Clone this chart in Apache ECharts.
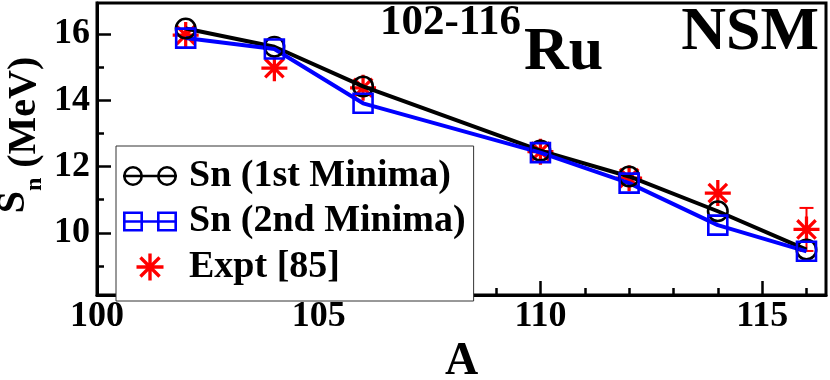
<!DOCTYPE html>
<html>
<head>
<meta charset="utf-8">
<title>Sn 102-116Ru NSM</title>
<script src="https://cdn.jsdelivr.net/npm/echarts@6/dist/echarts.min.js"></script>
<style>
html, body { margin: 0; padding: 0; background: #fff; }
#chart { width: 830px; height: 380px; }
</style>
</head>
<body>
<div id="chart"></div>
<script>
// mass number A
const massNumbers = [102, 104, 106, 110, 112, 114, 116]
// neutron separation energy S_n (MeV)
const snFirstMinima = [16.17, 15.62, 14.42, 12.48, 11.70, 10.65, 9.49]
const snSecondMinima = [15.88, 15.55, 13.91, 12.42, 11.50, 10.23, 9.44]
const snExpt = [15.97, 14.97, 14.38, 12.45, 11.65, 11.20, 10.10]
const snExptErr = [0, 0, 0, 0, 0, 0, 0.65]
const seriesNames = ['Sn (1st Minima)', 'Sn (2nd Minima)', 'Expt [85]']
// tick values
const xMajorTicks = [100, 105, 110, 115]
const xMinorTicks = [101, 102, 103, 104, 106, 107, 108, 109, 111, 112, 113, 114, 116]
const yMajorTicks = [10, 12, 14, 16]
const yMinorTicks = [9, 11, 13, 15]

const serif = "'Liberation Serif', 'Times New Roman', serif"

// symbols
const starPath = 'path://M10.5,0H13.5V24H10.5Z M0,10.5H24V13.5H0Z M4.56,2.44L21.56,19.44L19.44,21.56L2.44,4.56Z M19.44,2.44L21.56,4.56L4.56,21.56L2.44,19.44Z'
const circleIcon = 'path://M0,10A10,10 0 1,1 20,10A10,10 0 1,1 0,10Z M2.6,10A7.4,7.4 0 1,0 17.4,10A7.4,7.4 0 1,0 2.6,10Z ' +
  'M34,10A10,10 0 1,1 54,10A10,10 0 1,1 34,10Z M36.6,10A7.4,7.4 0 1,0 51.4,10A7.4,7.4 0 1,0 36.6,10Z M0,8.75H54V11.25H0Z'
const squareIcon = 'path://M0,0H20V20H0Z M2.6,2.6V17.4H17.4V2.6Z M34,0H54V20H34Z M36.6,2.6V17.4H51.4V2.6Z M0,8.75H54V11.25H0Z'

const pairs = (ys) => massNumbers.map((a, i) => [a, ys[i]])
const errData = massNumbers.map((a, i) => [a, snExpt[i], snExptErr[i]]).filter(d => d[2] > 0)

const tickLabel = { fontFamily: serif, fontWeight: 'bold', fontSize: 36, color: '#000' }
const axisLine = { show: true, lineStyle: { color: '#000', width: 3 } }

const option = {
  animation: false,
  grid: {
    left: 97, right: 4, top: 3, bottom: 85,
    containLabel: false, outerBoundsMode: 'none',
    show: true, borderColor: '#000', borderWidth: 3
  },
  xAxis: [
    {
      type: 'value', min: 100, max: 116.44, position: 'bottom', offset: 0,
      name: 'A', nameLocation: 'middle', nameGap: 44, nameMoveOverlap: false,
      nameTextStyle: { fontFamily: serif, fontWeight: 'bold', fontSize: 46, color: '#000' },
      axisLine: axisLine,
      axisTick: { show: true, inside: true, length: 14, lineStyle: { color: '#000', width: 2.5 }, customValues: xMajorTicks },
      axisLabel: Object.assign({ show: true, margin: 4, customValues: xMajorTicks }, tickLabel),
      splitLine: { show: false }
    },
    {
      type: 'value', min: 100, max: 116.44, position: 'bottom', offset: 0,
      axisLine: { show: false },
      axisTick: { show: true, inside: true, length: 7, lineStyle: { color: '#000', width: 2.5 }, customValues: xMinorTicks },
      axisLabel: { show: false },
      splitLine: { show: false }
    }
  ],
  yAxis: [
    {
      type: 'value', min: 8.12, max: 16.94, position: 'left', offset: 0,
      name: '{s|S}{n|n}{m| (MeV)}', nameLocation: 'middle', nameRotate: 90, nameGap: 63, nameMoveOverlap: false,
      nameTextStyle: {
        padding: [0, 0, 0, 28],
        rich: {
          s: { fontFamily: serif, fontWeight: 'bold', fontSize: 40, lineHeight: 40, verticalAlign: 'top', color: '#000' },
          n: { fontFamily: serif, fontWeight: 'bold', fontSize: 24, lineHeight: 20, verticalAlign: 'top', padding: [29, 0, 0, 0], color: '#000' },
          m: { fontFamily: serif, fontWeight: 'bold', fontSize: 40, lineHeight: 40, verticalAlign: 'top', padding: [11, 0, 0, 0], color: '#000' }
        }
      },
      axisLine: axisLine,
      axisTick: { show: true, inside: true, length: 14, lineStyle: { color: '#000', width: 2.5 }, customValues: yMajorTicks },
      axisLabel: Object.assign({ show: true, margin: 7, customValues: yMajorTicks }, tickLabel),
      splitLine: { show: false }
    },
    {
      type: 'value', min: 8.12, max: 16.94, position: 'left', offset: 0,
      axisLine: { show: false },
      axisTick: { show: true, inside: true, length: 7, lineStyle: { color: '#000', width: 2.5 }, customValues: yMinorTicks },
      axisLabel: { show: false },
      splitLine: { show: false }
    }
  ],
  legend: {
    orient: 'vertical', left: 116, top: 146,
    padding: [11, 8, 15, 7],
    borderColor: '#333', borderWidth: 1, backgroundColor: '#fff',
    itemWidth: 54, itemHeight: 27, itemGap: 7.5, symbolKeepAspect: true,
    itemStyle: { borderWidth: 0 },
    textStyle: { fontFamily: serif, fontWeight: 'bold', fontSize: 38, lineHeight: 30, color: '#000', padding: [0, 0, 0, 7] },
    data: [
      { name: seriesNames[0], icon: circleIcon, itemStyle: { color: '#000' } },
      { name: seriesNames[1], icon: squareIcon, itemStyle: { color: '#0000ff' } },
      { name: seriesNames[2], icon: starPath, itemStyle: { color: '#ff0000' } }
    ]
  },
  graphic: [
    { type: 'text', left: 380, top: 1, style: { text: '102-116', font: 'bold 43px ' + serif, fill: '#000' } },
    { type: 'text', left: 524, top: 22, style: { text: 'Ru', font: 'bold 62px ' + serif, fill: '#000' } },
    { type: 'text', right: 11, top: 2, style: { text: 'NSM', font: 'bold 62px ' + serif, fill: '#000' } }
  ],
  series: [
    {
      name: seriesNames[0], type: 'line', data: pairs(snFirstMinima),
      symbol: 'circle', symbolSize: 19.5,
      itemStyle: { color: 'transparent', borderColor: '#000', borderWidth: 2.6 },
      lineStyle: { color: '#000', width: 4 }
    },
    {
      name: seriesNames[1], type: 'line', data: pairs(snSecondMinima),
      symbol: 'rect', symbolSize: 19,
      itemStyle: { color: 'transparent', borderColor: '#0000ff', borderWidth: 2.6 },
      lineStyle: { color: '#0000ff', width: 4 }
    },
    {
      name: 'err', type: 'custom', data: errData,
      renderItem: function (params, api) {
        const x = api.value(0)
        const y = api.value(1)
        const e = api.value(2)
        const top = api.coord([x, y + e])
        const bot = api.coord([x, y - e])
        const w = 7
        const style = { stroke: '#ff0000', lineWidth: 2 }
        return {
          type: 'group',
          children: [
            { type: 'line', shape: { x1: top[0], y1: top[1], x2: bot[0], y2: bot[1] }, style: style },
            { type: 'line', shape: { x1: top[0] - w, y1: top[1], x2: top[0] + w, y2: top[1] }, style: style },
            { type: 'line', shape: { x1: bot[0] - w, y1: bot[1], x2: bot[0] + w, y2: bot[1] }, style: style }
          ]
        }
      }
    },
    {
      name: seriesNames[2], type: 'scatter', data: pairs(snExpt),
      symbol: starPath, symbolSize: 26,
      itemStyle: { color: '#ff0000', opacity: 1 }
    }
  ]
}

const myChart = echarts.init(document.getElementById('chart'))
myChart.setOption(option)
window.addEventListener('resize', () => {
  myChart.resize()
})
</script>
</body>
</html>
